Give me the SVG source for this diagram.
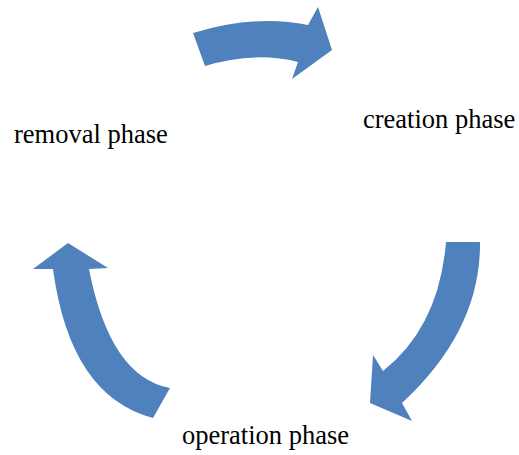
<svg xmlns="http://www.w3.org/2000/svg" width="519" height="455" viewBox="0 0 519 455">
<style>
.arrow{fill:#4f81bd;stroke:none}
.lbl{font-family:"Liberation Serif","Times New Roman",serif;font-size:26.5px;fill:#000}
</style>
<rect width="519" height="455" fill="#fff"/>
<g id="connectors">
<path id="arrow-top" class="arrow" d="M193,33 Q255,14 308,25 L318,7 L332,50 L292,79 L298,62 Q254,51 205,66 Z"/>
<path id="arrow-right" class="arrow" d="M446,242 L480,242 Q481,330 402,403 L412,421 L370,403 L373,355 L383,371 Q439,327 446,242 Z"/>
<path id="arrow-left" class="arrow" d="M170,388 Q110,377 89,269 L108,268 L68,243 L33,269 L53,269 Q70,396 153,418 Z"/>
</g>
<g id="node-removal"><text class="lbl" x="14" y="143">removal phase</text></g>
<g id="node-creation"><text class="lbl" x="363" y="128">creation phase</text></g>
<g id="node-operation"><text class="lbl" x="182" y="444">operation phase</text></g>
</svg>
